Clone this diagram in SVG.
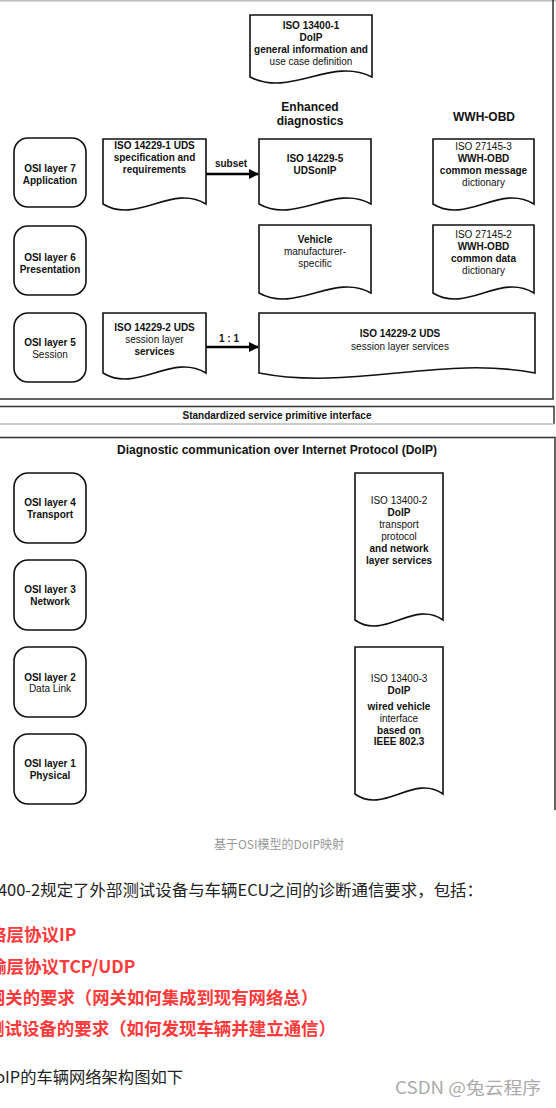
<svg xmlns="http://www.w3.org/2000/svg" width="556" height="1108" viewBox="0 0 556 1108">
<style>
.frame{fill:none;stroke:#333;stroke-width:1.5}
.lframe{fill:none;stroke:#bbb;stroke-width:1.5}
.box{fill:#fff;stroke:#111;stroke-width:1.6}
.doc{fill:#fff;stroke:#111;stroke-width:1.6}
.t{font-family:"Liberation Sans",Arial,sans-serif;font-size:10px;fill:#111;text-anchor:middle}
.b{font-weight:bold}
.h{font-family:"Liberation Sans",Arial,sans-serif;font-size:12px;font-weight:bold;fill:#111;text-anchor:middle}
.arrow{stroke:#000;stroke-width:2.6;fill:none}
.cap{font-family:"Noto Sans CJK SC",sans-serif;font-size:12px;fill:#999;text-anchor:middle}
.body{font-family:"Noto Sans CJK SC",sans-serif;font-size:16px;fill:#222}
.red{font-family:"Noto Sans CJK SC",sans-serif;font-size:17.5px;font-weight:bold;fill:#ff3a3a}
.wm{font-family:"Noto Sans CJK SC",sans-serif;font-size:17px;fill:#aaa}
</style>
<defs>
<marker id="ah" viewBox="0 0 10 10" refX="9" refY="5" markerWidth="4" markerHeight="4" orient="auto" markerUnits="strokeWidth">
<path d="M0,0 L10,5 L0,10 Z" fill="#000"/>
</marker>
</defs>

<g id="frames">
<line x1="0" y1="0.75" x2="556" y2="0.75" class="lframe"/>
<polyline points="553,0 553,399 0,399" class="frame"/>
<polyline points="0,406.5 554,406.5 554,424" class="frame"/>
<line x1="0" y1="424" x2="554" y2="424" class="lframe"/>
<polyline points="0,437.5 555,437.5 555,810" class="frame"/>
</g>

<g id="doc-13400-1">
<path class="doc" d="M250,15 H372 V77 C331,56 291,98 250,77 Z"/>
<text class="t b" x="311" y="29">ISO 13400-1</text>
<text class="t b" x="311" y="41">DoIP</text>
<text class="t b" x="311" y="53">general information and</text>
<text class="t" x="311" y="65">use case definition</text>
</g>

<g id="lbl-enhanced">
<text class="h" x="310" y="111">Enhanced</text>
<text class="h" x="310" y="125">diagnostics</text>
</g>
<g id="lbl-wwhobd">
<text class="h" x="484" y="121">WWH-OBD</text>
</g>

<g id="osi7">
<rect class="box" x="14" y="138" width="72" height="69" rx="14"/>
<text class="t b" x="50" y="171.5">OSI layer 7</text>
<text class="t b" x="50" y="183.5">Application</text>
</g>
<g id="doc-14229-1">
<path class="doc" d="M103,139 H206 V204 C172,183 137,225 103,204 Z"/>
<text class="t b" x="154.5" y="148.5">ISO 14229-1 UDS</text>
<text class="t b" x="154.5" y="160.5">specification and</text>
<text class="t b" x="154.5" y="172.5">requirements</text>
</g>
<g id="doc-14229-5">
<path class="doc" d="M259,139 H371 V204 C334,183 296,225 259,204 Z"/>
<text class="t b" x="315" y="161.5">ISO 14229-5</text>
<text class="t b" x="315" y="173.5">UDSonIP</text>
</g>
<g id="doc-27145-3">
<path class="doc" d="M433,139 H534 V204 C500,183 467,225 433,204 Z"/>
<text class="t" x="483.5" y="149.5">ISO 27145-3</text>
<text class="t b" x="483.5" y="161.5">WWH-OBD</text>
<text class="t b" x="483.5" y="173.5">common message</text>
<text class="t" x="483.5" y="185.5">dictionary</text>
</g>

<g id="osi6">
<rect class="box" x="14" y="226" width="72" height="69" rx="14"/>
<text class="t b" x="50" y="260.5">OSI layer 6</text>
<text class="t b" x="50" y="272.5">Presentation</text>
</g>
<g id="doc-vehicle">
<path class="doc" d="M259,225 H371 V293 C334,272 296,314 259,293 Z"/>
<text class="t b" x="315" y="242.5">Vehicle</text>
<text class="t" x="315" y="254.5">manufacturer-</text>
<text class="t" x="315" y="266.5">specific</text>
</g>
<g id="doc-27145-2">
<path class="doc" d="M433,225 H534 V293 C500,272 467,314 433,293 Z"/>
<text class="t" x="483.5" y="237.5">ISO 27145-2</text>
<text class="t b" x="483.5" y="249.5">WWH-OBD</text>
<text class="t b" x="483.5" y="261.5">common data</text>
<text class="t" x="483.5" y="273.5">dictionary</text>
</g>

<g id="osi5">
<rect class="box" x="14" y="313" width="72" height="69" rx="14"/>
<text class="t b" x="50" y="345.5">OSI layer 5</text>
<text class="t" x="50" y="357.5">Session</text>
</g>
<g id="doc-14229-2-left">
<path class="doc" d="M103,313 H206 V373 C172,352 137,394 103,373 Z"/>
<text class="t b" x="154.5" y="330.5">ISO 14229-2 UDS</text>
<text class="t" x="154.5" y="342.5">session layer</text>
<text class="t b" x="154.5" y="354.5">services</text>
</g>
<g id="doc-14229-2-right">
<path class="doc" d="M259,313 H535 V373 C443,355 351,391 259,373 Z"/>
<text class="t b" x="400" y="336.5">ISO 14229-2 UDS</text>
<text class="t" x="400" y="349.5">session layer services</text>
</g>

<g id="lbl-standardized">
<text class="t b" x="277" y="419">Standardized service primitive interface</text>
</g>
<g id="lbl-doip">
<text class="h" x="277" y="454">Diagnostic communication over Internet Protocol (DoIP)</text>
</g>

<g id="osi4">
<rect class="box" x="14" y="473" width="72" height="70" rx="14"/>
<text class="t b" x="50" y="505.5">OSI layer 4</text>
<text class="t b" x="50" y="517.5">Transport</text>
</g>
<g id="osi3">
<rect class="box" x="14" y="560" width="72" height="70" rx="14"/>
<text class="t b" x="50" y="592.5">OSI layer 3</text>
<text class="t b" x="50" y="604.5">Network</text>
</g>
<g id="osi2">
<rect class="box" x="14" y="647" width="72" height="70" rx="14"/>
<text class="t b" x="50" y="680.5">OSI layer 2</text>
<text class="t" x="50" y="692">Data Link</text>
</g>
<g id="osi1">
<rect class="box" x="14" y="734" width="72" height="70" rx="14"/>
<text class="t b" x="50" y="766.5">OSI layer 1</text>
<text class="t b" x="50" y="778.5">Physical</text>
</g>

<g id="doc-13400-2">
<path class="doc" d="M355,473 H443 V620 C414,599 384,641 355,620 Z"/>
<text class="t" x="399" y="503.5">ISO 13400-2</text>
<text class="t b" x="399" y="515.5">DoIP</text>
<text class="t" x="399" y="527.5">transport</text>
<text class="t" x="399" y="539.5">protocol</text>
<text class="t b" x="399" y="551.5">and network</text>
<text class="t b" x="399" y="563.5">layer services</text>
</g>
<g id="doc-13400-3">
<path class="doc" d="M355,647 H443 V794 C414,773 384,815 355,794 Z"/>
<text class="t" x="399" y="681.5">ISO 13400-3</text>
<text class="t b" x="399" y="693.5">DoIP</text>
<text class="t b" x="399" y="709.5">wired vehicle</text>
<text class="t" x="399" y="721.5">interface</text>
<text class="t b" x="399" y="733.5">based on</text>
<text class="t b" x="399" y="745">IEEE 802.3</text>
</g>

<g id="connectors">
<line class="arrow" x1="206" y1="174" x2="258" y2="174" marker-end="url(#ah)"/>
<text class="t b" x="231" y="166.5">subset</text>
<line class="arrow" x1="206" y1="347" x2="258" y2="347" marker-end="url(#ah)"/>
<text class="t b" x="229" y="341.5">1 : 1</text>
</g>

<g id="page-text">
<text class="cap" x="279" y="849">基于OSI模型的DoIP映射</text>
<text class="body" x="-2" y="896" textLength="485" lengthAdjust="spacingAndGlyphs">400-2规定了外部测试设备与车辆ECU之间的诊断通信要求，包括：</text>
<text class="red" x="-11" y="941">络层协议IP</text>
<text class="red" x="-11" y="973">输层协议TCP/UDP</text>
<text class="red" x="-12" y="1004" textLength="330" lengthAdjust="spacingAndGlyphs">网关的要求（网关如何集成到现有网络总）</text>
<text class="red" x="-13" y="1035" textLength="349" lengthAdjust="spacingAndGlyphs">测试设备的要求（如何发现车辆并建立通信）</text>
<text class="body" x="-16" y="1083" textLength="199" lengthAdjust="spacingAndGlyphs">DoIP的车辆网络架构图如下</text>
<text class="wm" x="395" y="1094" textLength="146" lengthAdjust="spacingAndGlyphs">CSDN @兔云程序</text>
</g>
</svg>
